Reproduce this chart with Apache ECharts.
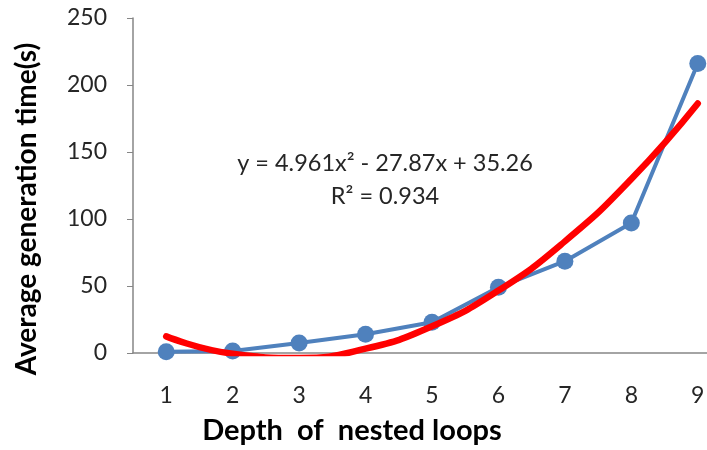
<!DOCTYPE html>
<html>
<head>
<meta charset="utf-8">
<script src="https://cdn.jsdelivr.net/npm/echarts@6/dist/echarts.min.js"></script>
<style>
  html, body { margin: 0; padding: 0; background: #fff; }
  #chart { width: 707px; height: 450px; }
</style>
</head>
<body>
<div id="chart"></div>
<script>
const depths = ['1', '2', '3', '4', '5', '6', '7', '8', '9'];
const avgTime = [1, 1.5, 7.5, 14, 23, 49, 68.5, 97, 216];
// polynomial trendline at each depth
const trendTime = [12.4, -0.6, -3.7, 3.2, 19.9, 46.6, 83.3, 129.8, 186.2];
const yTicks = { min: 0, max: 250, interval: 50 };

const font = 'Lato';
const chart = echarts.init(document.getElementById('chart'));

chart.setOption({
  animation: false,
  // plot runs past the right edge of the picture (cropped at 9)
  grid: { left: 133, width: 598, top: 18, bottom: 97, outerBoundsMode: 'none' },
  xAxis: {
    type: 'category',
    data: depths,
    boundaryGap: true,
    axisLine: { lineStyle: { color: '#868686', width: 1.5 } },
    axisTick: { show: false },
    axisLabel: { color: '#262626', fontSize: 23, fontFamily: font, margin: 31 }
  },
  yAxis: {
    type: 'value',
    min: yTicks.min,
    max: yTicks.max,
    interval: yTicks.interval,
    splitLine: { show: false },
    axisLine: { show: true, lineStyle: { color: '#868686', width: 1.5 } },
    axisTick: { show: true, length: 6, lineStyle: { color: '#868686' } },
    axisLabel: { color: '#262626', fontSize: 23, fontFamily: font, margin: 26 }
  },
  graphic: [
    {
      type: 'text', x: 27, y: 209, rotation: Math.PI / 2,
      style: {
        text: 'Average generation time(s)', fontSize: 28, fontWeight: 'bold',
        fontFamily: font, fill: '#000', align: 'center', verticalAlign: 'middle'
      }
    },
    {
      type: 'text', x: 352, y: 431,
      style: {
        text: 'Depth  of  nested loops', fontSize: 29, fontWeight: 'bold',
        fontFamily: font, fill: '#000', align: 'center', verticalAlign: 'middle'
      }
    },
    {
      type: 'text', x: 385, y: 163,
      style: {
        text: 'y = 4.961x² - 27.87x + 35.26', fontSize: 23.5, fontFamily: font,
        fill: '#262626', align: 'center', verticalAlign: 'middle'
      }
    },
    {
      type: 'text', x: 385, y: 196,
      style: {
        text: 'R² = 0.934', fontSize: 23.5, fontFamily: font,
        fill: '#262626', align: 'center', verticalAlign: 'middle'
      }
    }
  ],
  series: [
    {
      name: 'time',
      type: 'line',
      data: avgTime,
      symbol: 'circle',
      symbolSize: 17,
      lineStyle: { color: '#4F81BD', width: 4 },
      itemStyle: { color: '#4F81BD' },
      z: 2
    },
    {
      name: 'trend',
      type: 'line',
      data: trendTime,
      smooth: 0.5,
      symbol: 'none',
      clip: true,
      lineStyle: { color: '#FF0000', width: 6.5, cap: 'round' },
      z: 3
    }
  ]
});
</script>
</body>
</html>
